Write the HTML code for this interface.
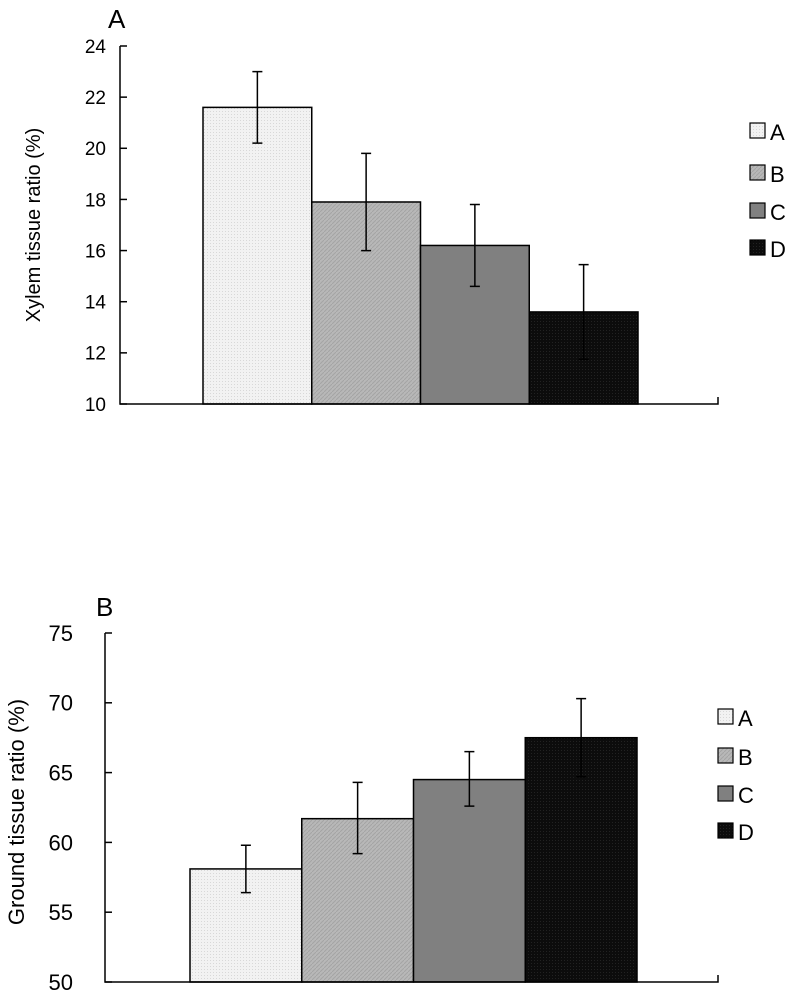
<!DOCTYPE html>
<html><head><meta charset="utf-8">
<style>
html,body{margin:0;padding:0;background:#fff;}
svg{display:block;font-family:"Liberation Sans",Arial,sans-serif;}
</style></head>
<body>
<svg id="fig" width="796" height="998" viewBox="0 0 796 998">
<defs>
<pattern id="pA" width="3" height="3" patternUnits="userSpaceOnUse"><rect width="3" height="3" fill="#f2f2f2"/><rect width="1" height="1" fill="#d8d8d8"/></pattern>
<pattern id="pB" width="4" height="4" patternUnits="userSpaceOnUse"><rect width="4" height="4" fill="#b8b8b8"/><path d="M0,4 L4,0" stroke="#a4a4a4" stroke-width="1"/></pattern>
<pattern id="pC" width="3" height="3" patternUnits="userSpaceOnUse"><rect width="3" height="3" fill="#808080"/></pattern>
<pattern id="pD" width="3" height="3" patternUnits="userSpaceOnUse"><rect width="3" height="3" fill="#0c0c0c"/><rect width="1" height="1" fill="#222"/></pattern>
</defs>
</svg>
<script>
const categories = ["A","B","C","D"];
const xylemValues = [21.6, 17.9, 16.2, 13.6];
const xylemErrUp = [1.4, 1.9, 1.6, 1.85];
const xylemErrDown = [1.4, 1.9, 1.6, 1.85];
const xylemTicks = [10,12,14,16,18,20,22,24];
const groundValues = [58.1, 61.7, 64.5, 67.5];
const groundErrUp = [1.7, 2.6, 2.0, 2.8];
const groundErrDown = [1.7, 2.5, 1.9, 2.8];
const groundTicks = [50,55,60,65,70,75];

const fills = ["url(#pA)","url(#pB)","url(#pC)","url(#pD)"];
const svg = document.getElementById('fig');
const NS = "http://www.w3.org/2000/svg";
function el(tag, attrs, parent){const e=document.createElementNS(NS,tag);for(const k in attrs)e.setAttribute(k,attrs[k]);(parent||svg).appendChild(e);return e;}

function drawChart(cfg){
  const g = el('g',{});
  
  
  const y = v => cfg.y0 - (v - cfg.min)/(cfg.max - cfg.min)*(cfg.y0 - cfg.y1);
  const pl = el('text',{x:cfg.labelX,y:cfg.labelY,'font-size':26,fill:'#000'},g);
  pl.textContent = cfg.panel;
  
  
  categories.forEach((c,i)=>{
    const x0 = cfg.bx0 + i*cfg.bw;
    const r = el('rect',{x:x0,y:y(cfg.values[i]),width:cfg.bw,height:cfg.y0-y(cfg.values[i]),fill:fills[i],stroke:'#000','stroke-width':1.5},g);
    
    
  });
  categories.forEach((c,i)=>{
    const cx = cfg.bx0 + i*cfg.bw + cfg.bw/2;
    const hi = y(cfg.values[i]+cfg.up[i]), lo = y(cfg.values[i]-cfg.down[i]);
    const e = el('path',{d:`M${cx},${hi}V${lo}M${cx-5},${hi}H${cx+5}M${cx-5},${lo}H${cx+5}`,stroke:'#000','stroke-width':1.5,fill:'none'},g);
    
    
  });
  const ax = el('path',{d:`M${cfg.ax},${y(cfg.max)}V${cfg.y0}H${cfg.axEnd}V${cfg.y0-7}`,stroke:'#000','stroke-width':1.5,fill:'none'},g);
  
  
  cfg.ticks.forEach(t=>{
    el('line',{x1:cfg.ax,x2:cfg.ax+7,y1:y(t),y2:y(t),stroke:'#000','stroke-width':1.5},g);
    const tl = el('text',{x:cfg.tickX,y:y(t)+cfg.tickFs*0.36,'font-size':cfg.tickFs,'text-anchor':'end',fill:'#000'},g);
    tl.textContent = t;
    
    
  });
  const yt = el('text',{x:0,y:0,'font-size':cfg.titleFs,'text-anchor':'middle',fill:'#000',transform:`translate(${cfg.titleX},${cfg.titleY}) rotate(-90)`},g);
  yt.textContent = cfg.title;
  
  
  categories.forEach((c,i)=>{
    const ly = cfg.legY[i];
    const lg = el('g',{},g);
    
    
    el('rect',{x:cfg.legX,y:ly-7,width:15,height:15,fill:fills[i],stroke:'#000','stroke-width':1.2},lg);
    const t = el('text',{x:cfg.legX+20,y:ly+10,'font-size':22,fill:'#000'},lg);
    t.textContent = c;
  });
}

drawChart({name:'chart-xylem',panel:'A',labelX:108,labelY:28,values:xylemValues,up:xylemErrUp,down:xylemErrDown,ticks:xylemTicks,
  min:10,max:24,y0:404,y1:46,ax:120,axEnd:718,bx0:203,bw:108.75,tickX:106,tickFs:19,
  title:'Xylem tissue ratio (%)',titleFs:20,titleX:40,titleY:225,legX:750,legY:[130,172,210,247]});
drawChart({name:'chart-ground',panel:'B',labelX:96,labelY:616,values:groundValues,up:groundErrUp,down:groundErrDown,ticks:groundTicks,
  min:50,max:75,y0:982,y1:633,ax:105,axEnd:718,bx0:190,bw:111.75,tickX:73,tickFs:22,
  title:'Ground tissue ratio (%)',titleFs:22,titleX:24,titleY:812,legX:718,legY:[716,755,793,830]});
</script>
</body></html>
